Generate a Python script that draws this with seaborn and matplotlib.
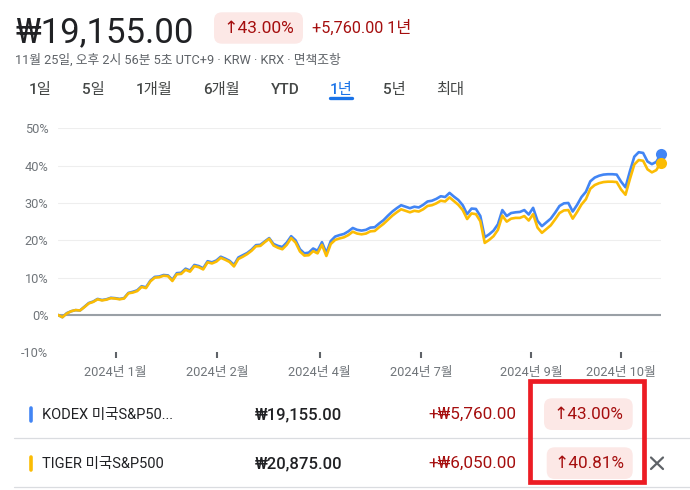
import numpy as np
import pandas as pd
import matplotlib.pyplot as plt
import seaborn as sns
from matplotlib.patches import FancyBboxPatch, Rectangle
from matplotlib.lines import Line2D

# Percent change over 1 year (trading-day steps)
kodex = [0.0, -0.6, 0.5, 1.0, 1.3, 1.2, 2.2, 3.2, 3.6, 4.3,
         4.0, 4.2, 4.6, 4.5, 4.3, 4.5, 5.9, 6.2, 6.6, 7.7,
         7.4, 9.2, 10.2, 10.3, 10.7, 10.6, 9.4, 11.2, 11.3, 12.4,
         11.9, 13.4, 13.1, 12.5, 14.4, 14.1, 14.6, 15.6, 15.1, 14.5,
         13.4, 15.4, 16.0, 16.6, 17.5, 18.7, 18.8, 19.7, 20.6, 19.0,
         18.5, 18.2, 19.4, 21.1, 20.0, 17.6, 16.5, 16.7, 17.8, 17.2,
         19.5, 16.6, 19.8, 21.0, 21.4, 21.7, 22.4, 23.3, 22.8, 22.6,
         22.8, 23.4, 23.5, 24.5, 25.4, 26.6, 27.7, 28.6, 29.4, 29.0,
         28.6, 29.0, 28.8, 29.5, 30.4, 30.6, 31.1, 31.8, 31.6, 32.7,
         31.7, 30.8, 29.4, 27.0, 28.5, 28.4, 26.5, 20.8, 21.6, 22.6,
         24.3, 28.1, 26.5, 27.3, 27.5, 27.6, 28.1, 26.9, 28.7, 25.2,
         23.8, 24.8, 25.8, 27.4, 29.2, 29.9, 30.0, 27.7, 29.5, 31.6,
         33.0, 35.8, 36.8, 37.3, 37.6, 37.7, 37.7, 37.6, 35.7, 34.2,
         38.5, 42.4, 43.6, 43.4, 41.1, 40.4, 41.0, 43.0]
tiger = [0.0, -0.6, 0.4, 1.0, 1.3, 1.2, 2.1, 3.1, 3.5, 4.2,
         3.9, 4.1, 4.5, 4.4, 4.2, 4.4, 5.8, 6.0, 6.4, 7.5,
         7.2, 9.0, 10.0, 10.1, 10.5, 10.4, 9.1, 10.9, 11.0, 12.1,
         11.6, 13.1, 12.8, 12.2, 14.1, 13.8, 14.3, 15.3, 14.8, 14.2,
         13.0, 15.0, 15.6, 16.3, 17.2, 18.4, 18.5, 19.5, 20.4, 18.6,
         18.0, 17.6, 18.8, 20.6, 19.4, 17.0, 15.9, 16.0, 17.1, 16.5,
         18.8, 15.8, 19.0, 20.1, 20.5, 20.8, 21.4, 22.3, 21.8, 21.6,
         21.8, 22.4, 22.5, 23.5, 24.4, 25.5, 26.6, 27.5, 28.3, 27.9,
         27.5, 27.9, 27.7, 28.3, 29.2, 29.4, 29.9, 30.6, 30.4, 31.5,
         30.5, 29.5, 28.1, 25.7, 27.2, 27.0, 25.1, 19.3, 20.1, 21.1,
         22.8, 26.6, 25.0, 25.8, 26.0, 26.0, 26.5, 25.3, 27.0, 23.4,
         22.0, 23.0, 24.0, 25.6, 27.3, 28.0, 28.1, 25.8, 27.6, 29.6,
         31.0, 33.8, 34.8, 35.3, 35.6, 35.7, 35.7, 35.6, 33.6, 32.2,
         36.4, 40.3, 41.5, 41.3, 39.0, 38.2, 38.8, 40.81]
days = list(range(len(kodex)))

tick_days = [13.1, 36.1, 59.5, 82.5, 107.5, 128]
tick_labels = ['2024년 1월', '2024년 2월', '2024년 4월', '2024년 7월', '2024년 9월', '2024년 10월']
y_ticks = [-10, 0, 10, 20, 30, 40, 50]

funds = ['KODEX', 'TIGER']
names = ['KODEX 미국S&P50...', 'TIGER 미국S&P500']
prices = ['₩19,155.00', '₩20,875.00']
changes = ['+₩5,760.00', '+₩6,050.00']
pcts = ['↑43.00%', '↑40.81%']
tabs = ['1일', '5일', '1개월', '6개월', 'YTD', '1년', '5년', '최대']

colors = ['#4285f4', '#fbbc04']
red = '#a50e0e'
pink = '#fce8e6'

sns.set_theme(style='white')
plt.rcParams['font.family'] = ['Roboto', 'DejaVu Sans', 'Noto Sans CJK KR']

fig = plt.figure(figsize=(6.9, 4.9), dpi=100)

# overlay in pixel coordinates for the page furniture
ov = fig.add_axes([0, 0, 1, 1])
ov.set_xlim(0, 690)
ov.set_ylim(490, 0)
ov.axis('off')
ov.patch.set_alpha(0)

# =========================
# Header
# =========================
ov.text(15, 41.7, '₩19,155.00', fontsize=25, color='#202124', va='baseline')
ov.add_patch(FancyBboxPatch((214, 12.3), 89, 31.4, boxstyle='round,pad=0,rounding_size=8',
                            fc=pink, ec='none'))
ov.text(259, 32.7, '↑43.00%', fontsize=12.5, color=red, ha='center', va='baseline')
ov.text(312, 32.7, '+5,760.00 1년', fontsize=11.7, color=red, va='baseline')
ov.text(15, 64, '11월 25일, 오후 2시 56분 5초 UTC+9 · KRW · KRX · 면책조항',
        fontsize=9.2, color='#5f6368', va='baseline')

tab_x = [40, 93, 154, 221, 285, 341, 394, 450]
for t, x in zip(tabs, tab_x):
    c = '#1a73e8' if t == '1년' else '#444746'
    ov.text(x, 94, t, fontsize=11, color=c, ha='center', va='baseline',
            fontweight='medium')
ov.add_line(Line2D([330, 352], [98.3, 98.3], color='#1a73e8', lw=2.4,
                   solid_capstyle='round'))

# =========================
# Chart
# =========================
ax = fig.add_axes([58 / 690, 1 - 352.3 / 490, (660.7 - 58) / 690, (352.3 - 128.3) / 490])
ax.patch.set_alpha(0)

df = pd.DataFrame({
    'day': days * 2,
    'pct': kodex + tiger,
    'fund': [funds[0]] * len(days) + [funds[1]] * len(days),
})

ax.axhline(0, color='#9aa0a6', lw=1.5, zorder=1)
sns.lineplot(data=df, x='day', y='pct', hue='fund', hue_order=funds, palette=colors,
             linewidth=1.9, estimator=None, legend=False, ax=ax, zorder=3)
ax.scatter([days[-1]], [kodex[-1]], s=64, color=colors[0], zorder=5, clip_on=False, lw=0)
ax.scatter([days[-1]], [tiger[-1]], s=64, color=colors[1], zorder=6, clip_on=False, lw=0)

ax.set_xlim(0, days[-1])
ax.set_ylim(-10, 50)
ax.set_yticks(y_ticks)
ax.set_yticklabels([f'{v}%' for v in y_ticks])
ax.set_xticks(tick_days)
ax.set_xticklabels(tick_labels)
ax.grid(axis='y', color='#eeeeee', lw=0.8, zorder=0)
ax.grid(axis='x', visible=False)
for s in ax.spines.values():
    s.set_visible(False)
ax.tick_params(axis='y', length=0, pad=7, labelsize=9.2, labelcolor='#70757a')
ax.tick_params(axis='x', length=4, width=1.5, color='#5f6368', direction='out', pad=6,
               labelsize=9.2, labelcolor='#70757a', bottom=True)
ax.set_xlabel('')
ax.set_ylabel('')

# =========================
# Comparison table
# =========================
row_base = [419, 468.3]
row_mid = [414, 463]
pill_x = [(544, 632.7), (546.7, 632.7)]
pill_y = [(398.3, 430), (447.3, 479)]
for i in range(2):
    ov.add_line(Line2D([31.3, 31.3], [row_mid[i] - 6.5, row_mid[i] + 6.5], color=colors[i],
                       lw=2.6, solid_capstyle='round'))
    ov.text(42, row_base[i], names[i], fontsize=10.5, color='#202124', va='baseline')
    ov.text(298.5, row_base[i], prices[i], fontsize=12, color='#202124', ha='center',
            va='baseline', fontweight='medium')
    ov.text(428, row_base[i], changes[i], fontsize=12.3, color=red, va='baseline')
    x0, x1 = pill_x[i]
    y0, y1 = pill_y[i]
    ov.add_patch(FancyBboxPatch((x0, y0), x1 - x0, y1 - y0,
                                boxstyle='round,pad=0,rounding_size=8', fc=pink, ec='none'))
    ov.text((x0 + x1) / 2, row_base[i], pcts[i], fontsize=12.3, color=red, ha='center',
            va='baseline')

ov.add_line(Line2D([14, 690], [438.3, 438.3], color='#dadce0', lw=0.9))
ov.add_line(Line2D([14, 690], [486.7, 486.7], color='#dadce0', lw=0.9))

# remove icon
ov.add_line(Line2D([651, 663], [457.5, 469], color='#5f6368', lw=1.6))
ov.add_line(Line2D([651, 663], [469, 457.5], color='#5f6368', lw=1.6))

# red highlight box
ov.add_patch(Rectangle((529.6, 381.3), 114.8, 100.4, fill=False, ec='#ec1c24', lw=3.4, zorder=10))

fig.savefig('out.png', dpi=100)
plt.close()
